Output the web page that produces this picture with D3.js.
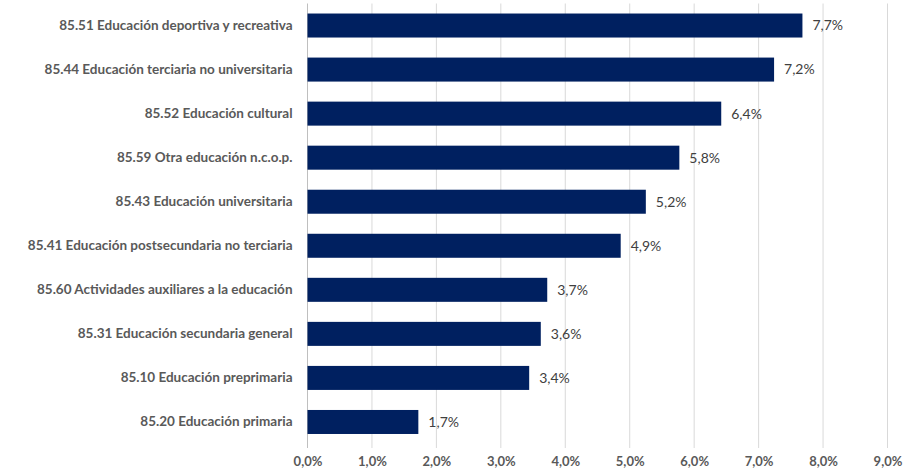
<!DOCTYPE html>
<html>
<head>
<meta charset="utf-8">
<script src="https://cdn.jsdelivr.net/npm/d3@7"></script>
<style>
  body { margin: 0; background: #fff; }
  text { font-family: Lato, "Open Sans", sans-serif; }
</style>
</head>
<body>
<div id="chart"></div>
<script>
// categories, top to bottom
var categories = [
  "85.51 Educación deportiva y recreativa",
  "85.44 Educación terciaria no universitaria",
  "85.52 Educación cultural",
  "85.59 Otra educación n.c.o.p.",
  "85.43 Educación universitaria",
  "85.41 Educación postsecundaria no terciaria",
  "85.60 Actividades auxiliares a la educación",
  "85.31 Educación secundaria general",
  "85.10 Educación preprimaria",
  "85.20 Educación primaria"
]
// bar values (percent)
var values = [7.68, 7.24, 6.42, 5.77, 5.25, 4.86, 3.72, 3.62, 3.44, 1.72]
// data labels shown next to the bars
var valueLabels = ["7,7%", "7,2%", "6,4%", "5,8%", "5,2%", "4,9%", "3,7%", "3,6%", "3,4%", "1,7%"]
// x axis ticks
var ticks = [0, 1, 2, 3, 4, 5, 6, 7, 8, 9]

var width = 909,
    height = 474,
    margin = {top: 3.5, right: 21.5, bottom: 30, left: 307.5}

var svg = d3.select("#chart")
  .append("svg")
    .attr("width", width)
    .attr("height", height)

var x = d3.scaleLinear()
  .domain([0, 9])
  .range([margin.left, width - margin.right])

var y = d3.scaleBand()
  .domain(categories)
  .range([margin.top, height - margin.bottom])
  .paddingInner(0.455)
  .paddingOuter(0.2275)

// vertical gridlines
svg.append("g")
  .selectAll("line")
  .data(ticks.slice(1))
  .enter()
  .append("line")
    .attr("x1", function(d) { return x(d) })
    .attr("x2", function(d) { return x(d) })
    .attr("y1", margin.top)
    .attr("y2", height - margin.bottom + 4)
    .attr("stroke", "#d9d9d9")
    .attr("stroke-width", 1)

// y axis line
svg.append("line")
  .attr("x1", x(0)).attr("x2", x(0))
  .attr("y1", margin.top)
  .attr("y2", height - margin.bottom + 4)
  .attr("stroke", "#bfbfbf")

// bars
svg.append("g")
  .selectAll("rect")
  .data(values)
  .enter()
  .append("rect")
    .attr("x", x(0))
    .attr("y", function(d, i) { return y(categories[i]) })
    .attr("width", function(d) { return x(d) - x(0) })
    .attr("height", y.bandwidth())
    .attr("fill", "#002060")

// value labels
svg.append("g")
  .selectAll("text")
  .data(values)
  .enter()
  .append("text")
    .attr("x", function(d) { return x(d) + 10 })
    .attr("y", function(d, i) { return y(categories[i]) + y.bandwidth() / 2 })
    .attr("dy", "0.35em")
    .attr("font-size", "14px")
    .attr("fill", "#404040")
    .text(function(d, i) { return valueLabels[i] })

// category labels
var yAxis = svg.append("g")
  .attr("transform", "translate(" + (margin.left - 15) + ",0)")
  .call(d3.axisLeft(y).tickSize(0).tickPadding(0))
yAxis.select(".domain").remove()
yAxis.selectAll("text")
  .attr("font-family", "Lato, sans-serif")
  .attr("font-weight", "bold")
  .attr("font-size", "13.5px")
  .attr("fill", "#595959")

// x axis tick labels
var xAxis = svg.append("g")
  .attr("transform", "translate(0," + (height - margin.bottom) + ")")
  .call(d3.axisBottom(x).tickValues(ticks).tickSize(0).tickPadding(13)
    .tickFormat(function(d) { return d.toFixed(1).replace(".", ",") + "%" }))
xAxis.select(".domain").remove()
xAxis.selectAll("text")
  .attr("font-family", "Lato, sans-serif")
  .attr("font-weight", "bold")
  .attr("font-size", "13px")
  .attr("fill", "#595959")
</script>
</body>
</html>
